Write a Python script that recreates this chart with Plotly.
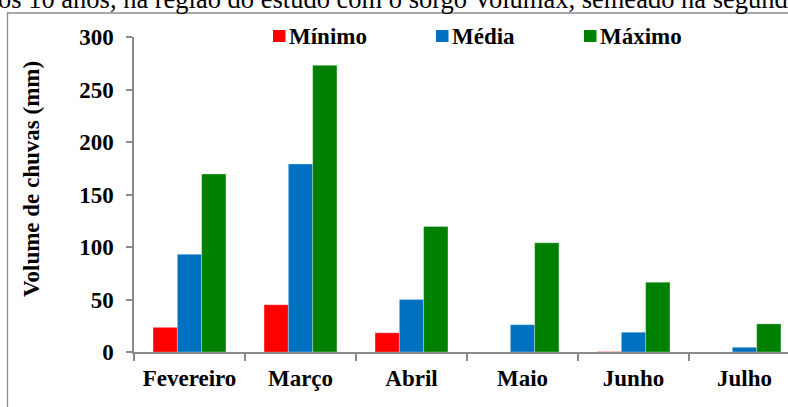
import plotly.graph_objects as go

months = ["Fevereiro", "Março", "Abril", "Maio", "Junho", "Julho"]
series_names = ["Mínimo", "Média", "Máximo"]
minimo = [23.5, 45, 18.3, 0, 0.4, 0]
media = [93, 179, 50, 26, 18.8, 4.5]
maximo = [169.5, 273, 119.5, 104, 66.5, 26.8]
colors = ["#FF0000", "#0070C0", "#008000"]
y_ticks = [0, 50, 100, 150, 200, 250, 300]
y_title = "Volume de chuvas (mm)"
caption = "os 10 anos, na região do estudo com o sorgo Volumax, semeado na segunda época"

W, H = 788, 407
ML, MR, MT, MB = 134, 0, 37, 55
PW = W - ML - MR
PH = H - MT - MB


def px2x(px):
    return (px - ML) / PW


def py2y(py):
    return (H - MB - py) / PH


FONT = "Liberation Serif"
FS = 23

fig = go.Figure()
for name, vals, col in zip(series_names, [minimo, media, maximo], colors):
    fig.add_trace(go.Bar(x=months, y=vals, name=name, marker_color=col,
                         marker_line_width=0.6, marker_line_color="rgba(255,255,255,0.5)"))

fig.update_layout(
    width=W, height=H,
    margin=dict(l=ML, r=MR, t=MT, b=MB),
    paper_bgcolor="white", plot_bgcolor="white",
    barmode="group", bargap=0.343, bargroupgap=0,
    showlegend=False,
    font=dict(family=FONT, color="black"),
)
fig.update_xaxes(
    range=[-0.5, -0.5 + PW / 111.0],
    showline=True, linecolor="#8a8a8a", linewidth=1.5,
    ticks="outside", tickson="boundaries", ticklen=7, tickcolor="#8a8a8a", tickwidth=1.5,
    tickfont=dict(family=FONT, size=FS, color="black", weight="bold"),
    ticklabelstandoff=5,
    showgrid=False, zeroline=False,
)
fig.update_yaxes(
    range=[0, 300], tickvals=y_ticks,
    showline=True, linecolor="#8a8a8a", linewidth=1.5,
    ticks="outside", ticklen=6, tickcolor="#8a8a8a", tickwidth=1.5,
    tickfont=dict(family=FONT, size=FS, color="black", weight="bold"),
    ticklabelstandoff=8,
    showgrid=False, zeroline=False,
)

# outer border box (extends beyond the cropped picture)
fig.add_shape(type="rect", xref="paper", yref="paper",
              x0=px2x(7.5), x1=px2x(900), y0=py2y(500), y1=py2y(13),
              line=dict(color="#8c8c8c", width=1.3), fillcolor="rgba(0,0,0,0)", layer="below")

# caption text, cropped at top as in the source
fig.add_annotation(text=caption, xref="paper", yref="paper",
                   x=px2x(-4), y=py2y(-1), xanchor="left", yanchor="middle",
                   showarrow=False, font=dict(family=FONT, size=26.5, color="black"))

# y axis title
fig.add_annotation(text=y_title, xref="paper", yref="paper",
                   x=px2x(32), y=py2y(179), xanchor="center", yanchor="middle",
                   textangle=-90, showarrow=False,
                   font=dict(family=FONT, size=FS, color="black", weight="bold"))

# custom legend
leg_sq = [273, 436, 584]
for name, col, sx in zip(series_names, colors, leg_sq):
    fig.add_shape(type="rect", xref="paper", yref="paper",
                  x0=px2x(sx), x1=px2x(sx + 12.5), y0=py2y(42), y1=py2y(30),
                  line=dict(width=0), fillcolor=col)
    fig.add_annotation(text=name, xref="paper", yref="paper",
                       x=px2x(sx + 14), y=py2y(36), xanchor="left", yanchor="middle",
                       showarrow=False,
                       font=dict(family=FONT, size=FS, color="black", weight="bold"))

fig.write_html("out.html")
